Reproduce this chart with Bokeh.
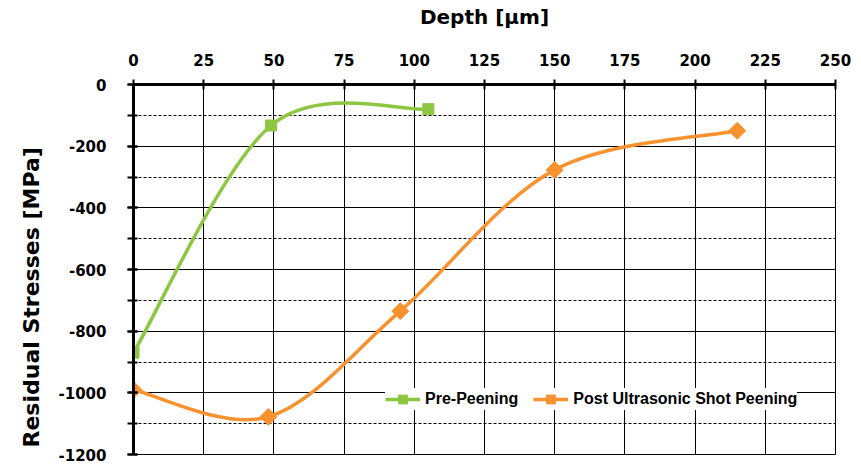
import math
from bokeh.plotting import figure
from bokeh.models import (Range1d, SingleIntervalTicker, Legend, LegendItem, ColumnDataSource,
                          PrintfTickFormatter, Title)
from bokeh.embed import file_html
from bokeh.resources import INLINE

# ---- data ----
depth_pre = [0, 49, 105]
stress_pre = [-870, -133, -80]
depth_post = [0, 48, 95, 150, 215]
stress_post = [-990, -1078, -735, -277, -150]
series_names = ["Pre-Peening", "Post Ultrasonic Shot Peening"]
green = "#8DC641"
orange = "#F7922F"


def smooth_segments(xs, ys):
    """Excel-like smoothing: cubic Bezier control points from neighbouring data points."""
    n = len(xs)
    d = dict(x0=[], y0=[], x1=[], y1=[], cx0=[], cy0=[], cx1=[], cy1=[])
    for i in range(n - 1):
        a = i - 1 if i > 0 else i
        b = i + 2 if i + 2 < n else i + 1
        d["x0"].append(xs[i]); d["y0"].append(ys[i])
        d["x1"].append(xs[i + 1]); d["y1"].append(ys[i + 1])
        d["cx0"].append(xs[i] + (xs[i + 1] - xs[a]) / 6.0)
        d["cy0"].append(ys[i] + (ys[i + 1] - ys[a]) / 6.0)
        d["cx1"].append(xs[i + 1] - (xs[b] - xs[i]) / 6.0)
        d["cy1"].append(ys[i + 1] - (ys[b] - ys[i]) / 6.0)
    return ColumnDataSource(d)


FONT = "DejaVu Sans"

p = figure(width=853, height=464, output_backend="svg", toolbar_location=None,
           x_range=Range1d(0, 250), y_range=Range1d(-1200, 0),
           x_axis_location="above", min_border_left=133, min_border_right=18,
           min_border_top=84, min_border_bottom=10)
p.outline_line_color = "black"
p.outline_line_width = 1
p.background_fill_color = "white"

# axes
p.xaxis.ticker = SingleIntervalTicker(interval=25, num_minor_ticks=0)
p.yaxis.ticker = SingleIntervalTicker(interval=200, num_minor_ticks=2)
p.yaxis.formatter = PrintfTickFormatter(format="%d")
p.xaxis.formatter = PrintfTickFormatter(format="%d")
for ax in (p.xaxis[0], p.yaxis[0]):
    ax.axis_line_width = 3
    ax.axis_line_color = "black"
    ax.major_tick_line_width = 2
    ax.major_tick_line_color = "black"
    ax.major_label_text_font = FONT
    ax.major_label_text_font_style = "bold"
    ax.major_label_text_font_size = "15px"
    ax.major_label_text_color = "black"
    ax.axis_label_text_font = FONT
    ax.axis_label_text_font_style = "bold"
    ax.axis_label_text_font_size = "20px"
    ax.axis_label_text_color = "black"

p.xaxis.axis_label = "Depth [μm]"
p.xaxis.major_tick_out = 5
p.xaxis.major_tick_in = 5
p.xaxis.minor_tick_line_color = None
p.xaxis.major_label_standoff = 14
p.xaxis.axis_label_standoff = 22

p.yaxis.major_tick_out = 6
p.yaxis.major_tick_in = 4
p.yaxis.minor_tick_out = 6
p.yaxis.minor_tick_in = 4
p.yaxis.minor_tick_line_width = 2
p.yaxis.minor_tick_line_color = "black"
p.yaxis.major_label_standoff = 21

# y-axis title (placed a little below the frame centre, as in the reference)
ylab = Title(text="Residual Stresses [MPa]", align="left", offset=7, standoff=23,
             text_font=FONT, text_font_style="bold", text_font_size="22px",
             text_color="black")
p.add_layout(ylab, "left")

# grids
p.xgrid.ticker = SingleIntervalTicker(interval=25)
p.xgrid.grid_line_color = "black"
p.xgrid.grid_line_width = 1
p.xgrid.grid_line_alpha = 1
p.ygrid.ticker = SingleIntervalTicker(interval=200, num_minor_ticks=2)
p.ygrid.grid_line_color = "black"
p.ygrid.grid_line_width = 1
p.ygrid.grid_line_alpha = 1
p.ygrid.minor_grid_line_color = "black"
p.ygrid.minor_grid_line_dash = "3 2"
p.ygrid.minor_grid_line_width = 1

# series
src_pre = smooth_segments(depth_pre, stress_pre)
src_post = smooth_segments(depth_post, stress_post)
bz_pre = p.bezier(x0="x0", y0="y0", x1="x1", y1="y1", cx0="cx0", cy0="cy0",
                  cx1="cx1", cy1="cy1", source=src_pre, line_color=green, line_width=3.5)
sc_pre = p.scatter(depth_pre, stress_pre, marker="square", size=11,
                   fill_color=green, line_color=green)
bz_post = p.bezier(x0="x0", y0="y0", x1="x1", y1="y1", cx0="cx0", cy0="cy0",
                   cx1="cx1", cy1="cy1", source=src_post, line_color=orange, line_width=3.5)
sc_post = p.scatter(depth_post, stress_post, marker="square", size=12, angle=math.pi / 4,
                    fill_color=orange, line_color=orange)

legend = Legend(items=[LegendItem(label=series_names[0], renderers=[bz_pre, sc_pre]),
                       LegendItem(label=series_names[1], renderers=[bz_post, sc_post])],
                orientation="horizontal", location=(252, 44))
legend.label_text_font = "Liberation Sans"
legend.label_text_font_style = "bold"
legend.label_text_font_size = "16px"
legend.label_text_color = "black"
legend.border_line_color = None
legend.background_fill_color = "white"
legend.background_fill_alpha = 1
legend.glyph_width = 35
legend.glyph_height = 22
legend.label_standoff = 5
legend.spacing = 15
legend.padding = 10
legend.margin = 0
p.add_layout(legend, "center")

open("out.html", "w").write(file_html(p, INLINE))
